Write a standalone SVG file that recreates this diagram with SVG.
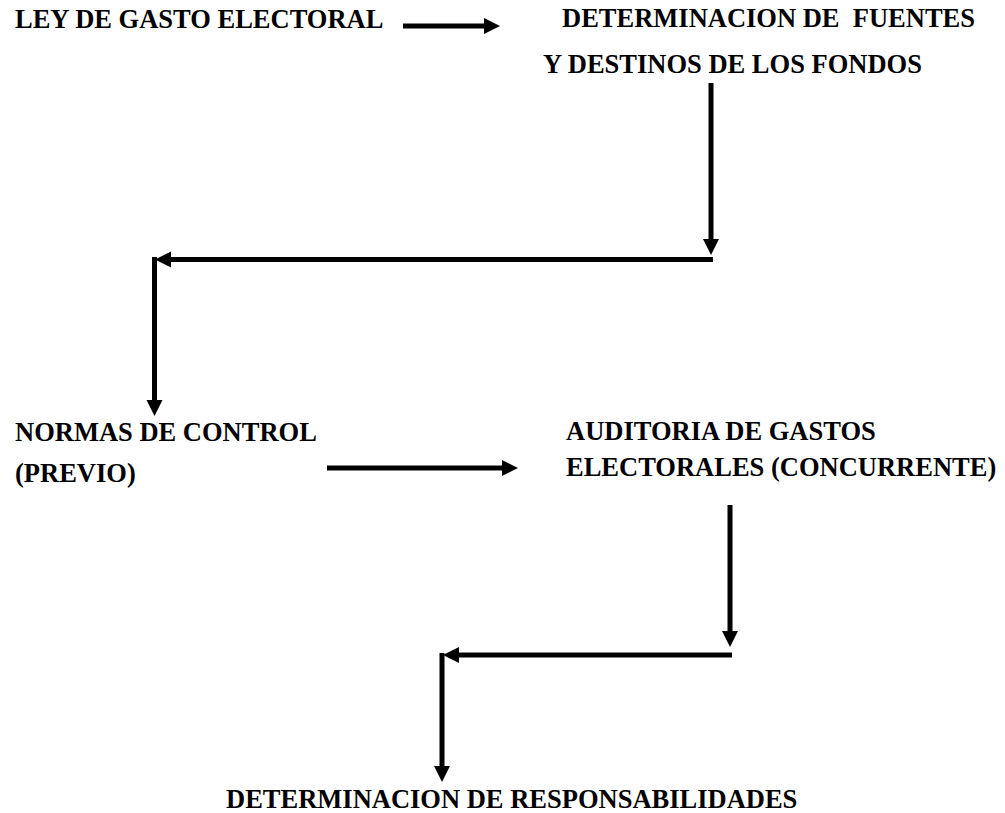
<svg xmlns="http://www.w3.org/2000/svg" width="1005" height="813" viewBox="0 0 1005 813">
<style>
text{font-family:'Liberation Serif','Times New Roman','DejaVu Serif',serif;font-weight:bold;font-size:26.5px;fill:#000}
.c{stroke:#000;stroke-width:5;fill:none;marker-end:url(#ah)}
</style>
<defs>
<marker id="ah" markerUnits="userSpaceOnUse" markerWidth="17" markerHeight="16" refX="0" refY="8" orient="auto" overflow="visible">
<path d="M0,0 L16,8 L0,16 z" fill="#000"/>
</marker>
</defs>
<rect width="1005" height="813" fill="#fff"/>
<g id="n1"><text x="15" y="28">LEY DE GASTO ELECTORAL</text></g>
<g id="n2"><text x="562" y="27" xml:space="preserve">DETERMINACION DE  FUENTES</text><text x="543" y="73">Y DESTINOS DE LOS FONDOS</text></g>
<g id="n3"><text x="15" y="441">NORMAS DE CONTROL</text><text x="15" y="482">(PREVIO)</text></g>
<g id="n4"><text x="566" y="440">AUDITORIA DE GASTOS</text><text x="566" y="476">ELECTORALES (CONCURRENTE)</text></g>
<g id="n5"><text x="226" y="808">DETERMINACION DE RESPONSABILIDADES</text></g>
<g id="connectors">
<line class="c" x1="403" y1="26" x2="484" y2="26"/>
<line class="c" x1="711" y1="83" x2="711" y2="239"/>
<line class="c" x1="713" y1="259.5" x2="171" y2="259.5"/>
<line class="c" x1="154.5" y1="257" x2="154.5" y2="400"/>
<line class="c" x1="327" y1="468" x2="502" y2="468"/>
<line class="c" x1="730" y1="505" x2="730" y2="631"/>
<line class="c" x1="732" y1="655" x2="459" y2="655"/>
<line class="c" x1="442" y1="653" x2="442" y2="766"/>
</g>
</svg>
